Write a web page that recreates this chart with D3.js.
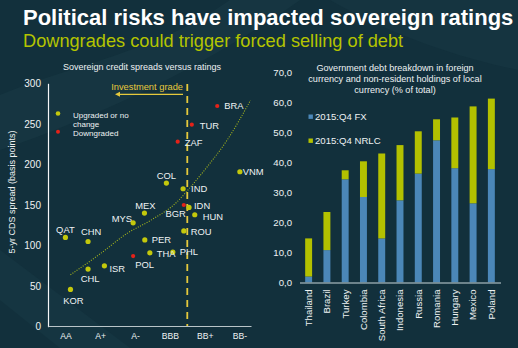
<!DOCTYPE html>
<html>
<head>
<meta charset="utf-8">
<script src="https://cdn.jsdelivr.net/npm/d3@7"></script>
<style>
  html, body { margin: 0; padding: 0; background: #12303c; }
  svg { display: block; }
  text { font-family: "Liberation Sans", Arial, sans-serif; }
</style>
</head>
<body>
<div id="canvas"></div>
<script>
// rating notches, every other one gets a tick label
const ratings = ["AA", "AA-", "A+", "A", "A-", "BBB+", "BBB", "BBB-", "BB+", "BB", "BB-"];
const ratingTicks = [0, 2, 4, 6, 8, 10];

// scatter: country code, rating notch, 5-yr CDS spread, downgraded?
const codes   = ["BRA", "TUR", "ZAF", "VNM", "COL", "IND", "BGR", "IDN", "HUN", "MEX", "MYS", "ROU", "QAT", "CHN", "PER", "THA", "PHL", "POL", "ISR", "CHL", "KOR"];
const notches = [8.72, 7.26, 6.45, 10.02, 5.8, 6.76, 6.8, 7.1, 7.43, 4.54, 3.89, 6.8, 0, 1.3, 4.56, 4.85, 6.17, 3.89, 2.24, 1.3, 0.29];
const spreads = [272, 249, 228, 191, 177, 170, 150, 147, 138, 140, 128, 118, 110, 105, 107, 91, 92, 87, 75, 71, 46];
const downgraded = ["BRA", "TUR", "ZAF", "BGR", "POL"];

// exponential trend line through the scatter
const trendNotch  = [0.29, 2.01, 3.54, 4.89, 6.42, 7.18, 8.14, 9.29, 10.63];
const trendSpread = [64, 90, 115, 131, 154, 172, 197, 230, 279];

const investmentGradeLimit = 7; // BBB-

// government debt breakdown (% of total)
const countries = ["Thailand", "Brazil", "Turkey", "Colombia", "South Africa", "Indonesia", "Russia", "Romania", "Hungary", "Mexico", "Poland"];
const fxShare   = [2.0, 10.8, 34.4, 28.5, 14.7, 27.4, 36.3, 47.4, 38.1, 26.4, 37.8];
const nrlcShare = [12.7, 12.7, 3.0, 11.9, 28.3, 18.4, 14.1, 7.0, 16.9, 32.3, 23.5];
const seriesNames = ["2015:Q4 FX", "2015:Q4 NRLC"];

const W = 518, H = 348;
const green = "#c3c80c", red = "#e42219", yellow = "#e6c93c";
const barBlue = "#4b87b8", barGreen = "#b3c100";
const ink = "#eef2f3";

const svg = d3.select("#canvas").append("svg").attr("width", W).attr("height", H);

// soft background sweeps
svg.append("rect").attr("width", W).attr("height", H).attr("fill", "#12303c");
svg.append("path").attr("d", "M0,95 C60,70 120,60 200,20 L230,0 L300,0 C230,50 120,110 0,150 Z")
  .attr("fill", "#1a3a46").attr("opacity", 0.55);
svg.append("path").attr("d", "M0,250 L130,348 L60,348 L0,300 Z")
  .attr("fill", "#183844").attr("opacity", 0.6);
svg.append("path").attr("d", "M330,0 C400,40 470,60 518,70 L518,0 Z")
  .attr("fill", "#173743").attr("opacity", 0.5);

// headline
svg.append("text").attr("x", 23).attr("y", 25)
  .attr("fill", "#ffffff").attr("font-size", 22).attr("font-weight", "bold")
  .text("Political risks have impacted sovereign ratings");
svg.append("text").attr("x", 23).attr("y", 47)
  .attr("fill", "#b4c400").attr("font-size", 18.2)
  .text("Downgrades could trigger forced selling of debt");

// ---------- left: spreads versus ratings ----------
const x = d3.scaleLinear().domain([-1, 10.66]).range([48, 251]);
const y = d3.scaleLinear().domain([0, 300]).range([326.7, 83.3]);

svg.append("text").attr("x", 142).attr("y", 70).attr("text-anchor", "middle")
  .attr("fill", ink).attr("font-size", 9)
  .text("Sovereign credit spreads versus ratings");

const yAxis = svg.append("g").attr("transform", "translate(48,0)")
  .call(d3.axisLeft(y).tickValues(d3.range(0, 301, 50)).tickSize(0).tickPadding(7));
yAxis.select(".domain").attr("stroke", "#f4f6f7").attr("stroke-width", 1.2);
yAxis.selectAll("text").attr("fill", ink).attr("font-size", 10).attr("font-family", "Liberation Sans, Arial");

const xAxis = svg.append("g").attr("transform", "translate(0,326)")
  .call(d3.axisBottom(x).tickValues(ratingTicks).tickFormat(d => ratings[d]).tickSize(0).tickPadding(7));
xAxis.select(".domain").attr("stroke", "#b9c4c8").attr("stroke-width", 1.2);
xAxis.selectAll("text").attr("fill", ink).attr("font-size", 8.6).attr("font-family", "Liberation Sans, Arial");

svg.append("text")
  .attr("transform", `translate(15,192) rotate(-90)`)
  .attr("text-anchor", "middle").attr("fill", ink).attr("font-size", 9)
  .text("5-yr CDS spread (basis points)");

// investment grade boundary
svg.append("line")
  .attr("x1", x(investmentGradeLimit)).attr("x2", x(investmentGradeLimit))
  .attr("y1", 84).attr("y2", 326)
  .attr("stroke", yellow).attr("stroke-width", 1.8).attr("stroke-dasharray", "7,5");
svg.append("text").attr("x", 183).attr("y", 90).attr("text-anchor", "end")
  .attr("fill", yellow).attr("font-size", 9.3).text("Investment grade");
svg.append("line").attr("x1", 119).attr("x2", 183).attr("y1", 94.3).attr("y2", 94.3)
  .attr("stroke", yellow).attr("stroke-width", 1.2);
svg.append("path").attr("d", "M115,94.3 L120,91.8 L120,96.8 Z").attr("fill", yellow);

// trend line
const trend = trendNotch.map((n, i) => [n, trendSpread[i]]);
svg.append("path").datum(trend)
  .attr("d", d3.line().x(d => x(d[0])).y(d => y(d[1])).curve(d3.curveMonotoneX))
  .attr("fill", "none").attr("stroke", "#a8b81c").attr("stroke-width", 1.1)
  .attr("stroke-dasharray", "1,1.5");

// label placement around each dot: [dx, dy, anchor]
const labelOffset = {
  BRA: [7, 0, "start"], TUR: [8, 1, "start"], ZAF: [7, 1, "start"], VNM: [3, 0, "start"],
  COL: [0, -7, "middle"], IND: [8, 0, "start"], BGR: [2, 9, "end"], IDN: [5, -1.5, "start"],
  HUN: [8, 1.5, "start"], MEX: [1, -7, "middle"], MYS: [-1, -4, "end"], ROU: [7, 1, "start"],
  QAT: [0, -8, "middle"], CHN: [3, -10, "middle"], PER: [7, 0, "start"], THA: [7, 1, "start"],
  PHL: [7, 0, "start"], POL: [2, 9, "start"], ISR: [5, 3, "start"], CHL: [2, 10, "middle"],
  KOR: [3, 11, "middle"]
};

const pts = codes.map((c, i) => ({ code: c, notch: notches[i], spread: spreads[i], down: downgraded.includes(c) }));

svg.append("g").selectAll("circle").data(pts).enter().append("circle")
  .attr("cx", d => x(d.notch)).attr("cy", d => y(d.spread))
  .attr("r", d => d.down ? 2.1 : 2.6)
  .attr("fill", d => d.down ? red : green);

svg.append("g").selectAll("text").data(pts).enter().append("text")
  .attr("x", d => x(d.notch) + labelOffset[d.code][0])
  .attr("y", d => y(d.spread) + labelOffset[d.code][1])
  .attr("dy", "0.35em")
  .attr("text-anchor", d => labelOffset[d.code][2])
  .attr("fill", ink).attr("font-size", 9.4)
  .text(d => d.code);

// legend
svg.append("circle").attr("cx", 58).attr("cy", 113.5).attr("r", 2.3).attr("fill", green);
svg.append("circle").attr("cx", 58).attr("cy", 131.7).attr("r", 2).attr("fill", red);
svg.append("text").attr("x", 73).attr("y", 117.6).attr("fill", ink).attr("font-size", 8).text("Upgraded or no");
svg.append("text").attr("x", 73).attr("y", 126.6).attr("fill", ink).attr("font-size", 8).text("change");
svg.append("text").attr("x", 73).attr("y", 136).attr("fill", ink).attr("font-size", 8).text("Downgraded");

// ---------- right: debt breakdown bars ----------
const fmt = d3.formatLocale({ decimal: ",", thousands: ".", grouping: [3], currency: ["", ""] }).format(".1f");
const xb = d3.scaleBand().domain(countries).range([299.5, 500.5]).paddingInner(0.62).paddingOuter(0.31);
const yb = d3.scaleLinear().domain([0, 70]).range([282.5, 72.5]);

["Government debt breakdown in foreign", "currency and non-resident holdings of local", "currency (% of total)"]
  .forEach((t, i) => {
    svg.append("text").attr("x", 395).attr("y", 70.5 + i * 11).attr("text-anchor", "middle")
      .attr("fill", ink).attr("font-size", 9.1).text(t);
  });

const ybAxis = svg.append("g").attr("transform", "translate(292,0)")
  .call(d3.axisLeft(yb).ticks(7).tickFormat(fmt).tickSize(0).tickPadding(0));
ybAxis.select(".domain").remove();
ybAxis.selectAll("text").attr("fill", ink).attr("font-size", 9.6).attr("font-family", "Liberation Sans, Arial");

const stackData = countries.map((c, i) => ({ country: c, fx: fxShare[i], nrlc: nrlcShare[i] }));
const stack = d3.stack().keys(["fx", "nrlc"])(stackData);
const barColors = [barBlue, barGreen];

svg.append("g").selectAll("g").data(stack).enter().append("g")
  .attr("fill", (d, i) => barColors[i])
  .selectAll("rect").data(d => d).enter().append("rect")
  .attr("x", d => xb(d.data.country))
  .attr("width", xb.bandwidth())
  .attr("y", d => yb(d[1]))
  .attr("height", d => yb(d[0]) - yb(d[1]));

const xbAxis = svg.append("g").attr("transform", "translate(0,282.5)")
  .call(d3.axisBottom(xb).tickSize(0).tickSizeOuter(0));
xbAxis.select(".domain").attr("stroke", "#8d9fa6").attr("stroke-width", 1.5);
xbAxis.selectAll("text")
  .attr("fill", ink).attr("font-size", 9.6).attr("font-family", "Liberation Sans, Arial")
  .attr("transform", "rotate(-90)")
  .attr("text-anchor", "end")
  .attr("x", -7).attr("y", 0).attr("dy", "0.35em");

// bar legend
seriesNames.forEach((s, i) => {
  const ly = 116.7 + i * 24;
  svg.append("rect").attr("x", 308.5).attr("y", ly - 2.2).attr("width", 4.4).attr("height", 4.4).attr("fill", barColors[i]);
  svg.append("text").attr("x", 315).attr("y", ly).attr("dy", "0.35em")
    .attr("fill", ink).attr("font-size", 9.6).text(s);
});
</script>
</body>
</html>
